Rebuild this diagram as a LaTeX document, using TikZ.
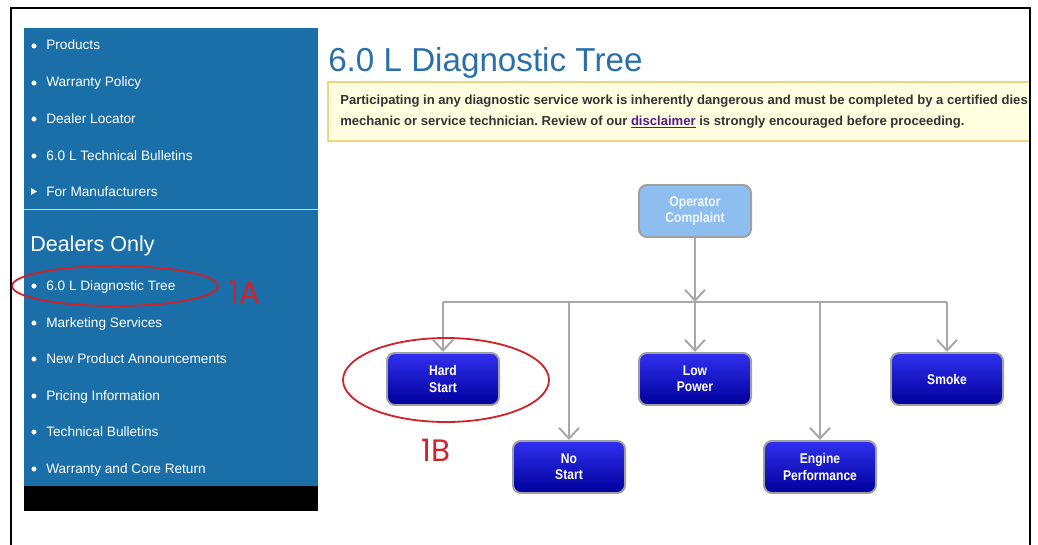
\documentclass[tikz,border=0pt]{standalone}
\usepackage{fontspec}
\setmainfont{Liberation Sans}
\newfontfamily\boxfont[FakeStretch=0.86]{Liberation Sans}
\newfontfamily\markfont{Poppins}
\usetikzlibrary{positioning,arrows.meta,calc}

\definecolor{sidebar}{HTML}{1B6FA8}
\definecolor{sepline}{HTML}{C8DCEC}
\definecolor{titleblue}{HTML}{2A6FA8}
\definecolor{notefill}{HTML}{FFFFE0}
\definecolor{noteedge}{HTML}{EED77A}
\definecolor{notetext}{HTML}{333333}
\definecolor{visited}{HTML}{551A8B}
\definecolor{boxtop}{HTML}{3030F0}
\definecolor{boxbot}{HTML}{00009A}
\definecolor{boxedge}{HTML}{A0A0A0}
\definecolor{opfill}{HTML}{8EBDF0}
\definecolor{optext}{HTML}{F2F8FF}
\definecolor{linkgray}{HTML}{A8A8A8}
\definecolor{markred}{HTML}{D0232B}

\frenchspacing
\begin{document}
\begin{tikzpicture}[
      x=0.025cm, y=-0.025cm,
      >={Straight Barb[length=2.7mm,width=5mm]},
      menuitem/.style={anchor=base west, text=white, inner sep=0pt, font=\fontsize{9.7}{11}\selectfont},
      bullet/.style={circle, fill=white, minimum size=1.25mm, inner sep=0pt},
      notice/.style={anchor=base west, inner sep=0pt, text=notetext, font=\bfseries\fontsize{9.3}{10}\selectfont},
      choice/.style={rectangle, rounded corners=2mm, draw=boxedge, line width=1.4pt,
        top color=boxtop, bottom color=boxbot, text=white, align=center,
        minimum width=2.8cm, minimum height=1.3cm, inner sep=1pt,
        font=\boxfont\bfseries\fontsize{10}{11.5}\selectfont},
      start/.style={choice, top color=opfill, bottom color=opfill, text=optext},
      link/.style={draw=linkgray, line width=1.4pt},
      callout/.style={draw=markred, line width=1.3pt},
      marklabel/.style={anchor=base west, inner sep=0pt, text=markred, font=\markfont\fontsize{22}{22}\selectfont},
    ]
    \useasboundingbox (0,0) rectangle (1038,545);

    % Sidebar
    \fill[sidebar] (24,28) rectangle (318,486);
    \fill[black] (24,486) rectangle (318,511);
    \draw[sepline, line width=0.7pt] (24,209) -- (318,209);

    \foreach \y/\txt [count=\i] in {45/Products, 82/Warranty Policy, 118/Dealer Locator, 155/6.0 L Technical Bulletins} {
      \node[bullet] (b\i) at (34,\y+1) {};
      \node[menuitem] (m\i) at (46,\y+5) {\txt};
    }
    \fill[white] (31,188) -- (37,191.5) -- (31,195) -- cycle;
    \node[menuitem] (m5) at (46,196) {For Manufacturers};

    \node[anchor=base west, inner sep=0pt, text=white, font=\fontsize{15.3}{17}\selectfont] (dealers) at (30,251) {Dealers Only};

    \foreach \y/\txt [count=\i] in {285/6.0 L Diagnostic Tree, 322/Marketing Services, 358/New Product Announcements,
        395/Pricing Information, 431/Technical Bulletins, 468/Warranty and Core Return} {
      \node[bullet] (d\i) at (34,\y+1) {};
      \node[menuitem] (n\i) at (46,\y+5) {\txt};
    }

    % Heading and warning
    \node[anchor=base west, inner sep=0pt, text=titleblue, font=\fontsize{23.6}{26}\selectfont] (title) at (328,71) {6.0 L Diagnostic Tree};
    \begin{scope}
      \clip (326,80) rectangle (1029,143);
      \draw[noteedge, fill=notefill, line width=0.8pt] (328,82) rectangle (1040,141);
      \node[notice] (warn1) at (340,105) {Participating in any diagnostic service work is inherently dangerous and must be completed by a certified dies};
      \node[notice] (warn2) at (340,125) {mechanic or service technician. Review of our \textcolor{visited}{\underline{disclaimer}} is strongly encouraged before proceeding.};
    \end{scope}

    % Tree
    \node[start] (op) at (695,211) {Operator\\Complaint};
    \node[choice] (hard) at (443,379) {Hard\\Start};
    \node[choice] (low) at (695,379) {Low\\Power};
    \node[choice] (smoke) at (947,379) {Smoke};
    \node[choice] (nostart) at (569,467) {No\\Start};
    \node[choice] (engine) at (820,467) {Engine\\Performance};

    \coordinate (bus) at (695,302);
    \draw[link] (bus -| hard) -- (bus -| smoke);
    \draw[link, ->] (op) -- (bus);
    \foreach \n in {hard,nostart,low,engine,smoke} {
      \draw[link, ->] (bus -| \n) -- (\n);
    }

    % Callouts
    \draw[callout] (115,286) ellipse [x radius=103, y radius=20];
    \node[marklabel] (tagA) at (229,303) {1A};
    \draw[callout] (446,380) ellipse [x radius=103, y radius=42];
    \node[marklabel] (tagB) at (421,461) {1B};

    % Frame
    \draw[black, line width=1.6pt] (11,545) -- (11,8) -- (1030,8) -- (1030,545);
  \end{tikzpicture}
\end{document}
